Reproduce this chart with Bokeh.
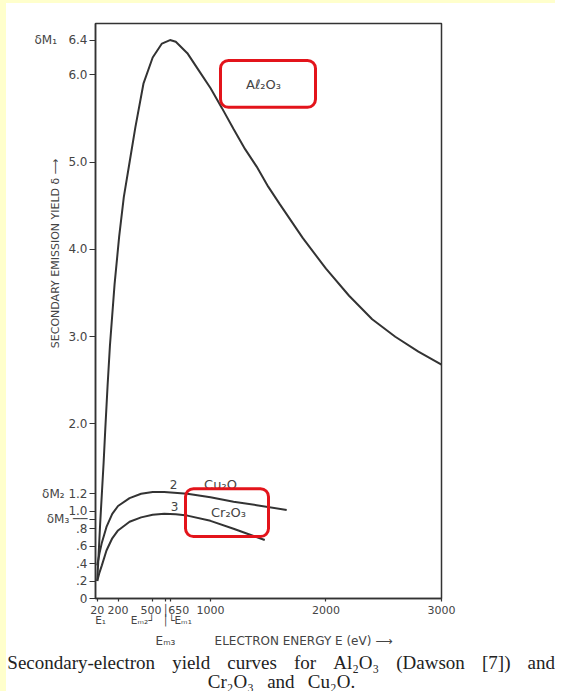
from bokeh.plotting import figure
from bokeh.models import FixedTicker, BoxAnnotation, Range1d, LinearAxis, Label
from bokeh.embed import file_html
from bokeh.resources import INLINE

# ---- data ----
energy_al2o3 = [20, 30, 45, 60, 75, 90, 110, 130, 170, 210, 250, 300, 350, 420, 500, 580, 650,
                700, 800, 900, 1000, 1100, 1200, 1300, 1400, 1500, 1600, 1800, 2000, 2200,
                2400, 2600, 2800, 3000]
yield_al2o3 = [0.2, 0.45, 0.85, 1.2, 1.55, 1.95, 2.45, 2.9, 3.6, 4.15, 4.6, 5.0, 5.4, 5.9, 6.2, 6.36, 6.4,
               6.38, 6.25, 6.05, 5.85, 5.62, 5.38, 5.15, 4.95, 4.72, 4.52, 4.13, 3.78, 3.47,
               3.2, 3.0, 2.83, 2.68]

energy_cu2o = [20, 40, 60, 100, 150, 200, 300, 400, 500, 600, 800, 1000, 1200, 1400, 1660]
yield_cu2o = [0.38, 0.52, 0.64, 0.82, 0.97, 1.06, 1.15, 1.2, 1.22, 1.22, 1.2, 1.16, 1.11, 1.07, 1.015]

energy_cr2o3 = [20, 40, 60, 100, 150, 200, 300, 400, 500, 600, 700, 800, 1000, 1200, 1470]
yield_cr2o3 = [0.2, 0.3, 0.38, 0.55, 0.69, 0.78, 0.88, 0.93, 0.96, 0.97, 0.965, 0.95, 0.89, 0.8, 0.67]

x_ticks = [20, 200, 500, 650, 1000, 2000, 3000]
x_tick_labels = ["20", "200", "500", "650", "1000", "2000", "3000"]
y_ticks = [0, 0.2, 0.4, 0.6, 0.8, 1.0, 1.2, 2.0, 3.0, 4.0, 5.0, 6.0, 6.4]
y_tick_labels = ["0", ".2", ".4", ".6", ".8", "1.0", "1.2", "2.0", "3.0", "4.0", "5.0", "6.0", "6.4"]

# characteristic energies / yields marked on the axes
E_1, E_M2, E_M1, E_M3 = 20, 500, 650, 611
DELTA_M1, DELTA_M2, DELTA_M3 = 6.4, 1.2, 0.91

# ---- layout (page pixels) ----
W, H = 561, 694
OX, OY = 6, 3                        # pale-yellow page strip on the left / top
X0, X1 = 5, 3000
Y0, Y1 = 0, 6.59
FL, FR, FT, FB = 95, 441, 23, 599   # frame edges


def dx(px):
    return X0 + (px - FL) * (X1 - X0) / (FR - FL)


def dy(py):
    return Y0 + (FB - py) * (Y1 - Y0) / (FB - FT)


INK = "#333333"
TXT = "#444444"
SANS = "DejaVu Sans"
SERIF = "Liberation Serif"
NB = "\u00a0"

p = figure(width=W - OX, height=H - OY, x_range=Range1d(X0, X1), y_range=Range1d(Y0, Y1),
           output_backend="svg", toolbar_location=None,
           min_border_left=FL - OX, min_border_right=W - FR,
           min_border_top=FT - OY, min_border_bottom=H - FB)
p.styles = {"border-left": f"{OX}px solid #ffffcc", "border-top": f"{OY}px solid #ffffcc"}
p.background_fill_color = "white"
p.border_fill_color = "white"
p.outline_line_color = INK
p.outline_line_width = 1.5
p.grid.visible = False

for ax in (p.xaxis[0], p.yaxis[0]):
    ax.axis_line_color = INK
    ax.axis_line_width = 1.5
    ax.major_tick_line_color = INK
    ax.major_tick_line_width = 1.2
    ax.major_tick_in = 0
    ax.minor_tick_line_color = None
    ax.minor_tick_out = 0
    ax.minor_tick_in = 0
    ax.major_label_text_font = SANS
    ax.major_label_text_color = TXT

# x axis (E_M3 marked by a vertical stroke through the label rows)
xlabels = dict(zip(x_ticks, x_tick_labels))
xlabels[500] = xlabels[500] + NB
xlabels[650] = NB * 5 + xlabels[650]
xlabels[E_M3] = "│"
p.xaxis.ticker = FixedTicker(ticks=x_ticks + [E_M3])
p.xaxis.major_label_overrides = xlabels
p.xaxis.major_tick_out = 3
p.xaxis.major_label_standoff = 2
p.xaxis.major_label_text_font_size = "11px"

# y axis: delta-M markers folded into the tick labels
ylabels = dict(zip(y_ticks, y_tick_labels))
ylabels[DELTA_M1] = "δM₁" + NB * 3 + ylabels[DELTA_M1]
ylabels[DELTA_M2] = "δM₂" + NB + ylabels[DELTA_M2]
ylabels[DELTA_M3] = "δM₃" + NB + "──"
p.yaxis.ticker = FixedTicker(ticks=y_ticks + [DELTA_M3])
p.yaxis.major_label_overrides = ylabels
p.yaxis.major_tick_out = 6
p.yaxis.major_label_standoff = 2
p.yaxis.major_label_text_font_size = "12px"
p.yaxis.axis_label = NB * 33 + "SECONDARY EMISSION YIELD δ ⟶"
p.yaxis.axis_label_text_font = SANS
p.yaxis.axis_label_text_font_size = "11px"
p.yaxis.axis_label_text_font_style = "normal"
p.yaxis.axis_label_text_color = TXT
p.yaxis.axis_label_standoff = -31


def label_axis(ticks, labels, standoff, size, font=SANS, color=TXT):
    ax = LinearAxis(ticker=FixedTicker(ticks=ticks), major_label_overrides=dict(zip(ticks, labels)),
                    axis_line_color=None, major_tick_line_color=None, minor_tick_line_color=None,
                    major_tick_out=0, major_tick_in=0, minor_tick_out=0, minor_tick_in=0,
                    major_label_standoff=standoff, major_label_text_font=font,
                    major_label_text_font_size=size, major_label_text_color=color)
    p.add_layout(ax, "below")


label_axis([E_1, E_M2, E_M3, E_M1],
           [NB * 2 + "E₁", "Eₘ₂┘" + NB * 6, "│", NB * 6 + "└Eₘ₁"], -6, "10.5px")
label_axis([E_M3, dx(303)], ["Eₘ₃", "ELECTRON ENERGY E (eV) ⟶"], 5, "12px")

# caption rows
gap = "\u2002\u2009\u2009"
line1 = gap.join(["Secondary-electron", "yield", "curves", "for", "Al₂O₃", "(Dawson", "[7])", "and"])
line2 = "\u2002\u2009".join(["Cr₂O₃", "and", "Cu₂O."])
label_axis([dx(279)], [line1], 1, "19px", SERIF, "#222222")
label_axis([dx(281)], [line2], -5, "19px", SERIF, "#222222")

# ---- curves ----
p.line(energy_al2o3, yield_al2o3, line_color=INK, line_width=2)
p.line(energy_cu2o, yield_cu2o, line_color=INK, line_width=2)
p.line(energy_cr2o3, yield_cr2o3, line_color=INK, line_width=2)


def lab(px, py, text, size="13px"):
    p.add_layout(Label(x=dx(px), y=dy(py), text=text, text_font=SANS, text_font_size=size,
                       text_color=TXT, text_align="center", text_baseline="middle"))


lab(173, 485, "2", "12px")
lab(220, 485, "Cu₂O")
lab(174, 507, "3", "12px")
lab(228, 513, "Cr₂O₃")
lab(263, 84, "Aℓ₂O₃")

# red highlight boxes
RED = "#e3141b"
for l, r, t, b in [(220, 315, 60, 107), (185, 268, 489, 537)]:
    p.add_layout(BoxAnnotation(left=dx(l), right=dx(r), top=dy(t), bottom=dy(b),
                               fill_alpha=0, line_color=RED, line_alpha=1, line_width=3,
                               border_radius=8))

open("out.html", "w").write(file_html(p, INLINE))
